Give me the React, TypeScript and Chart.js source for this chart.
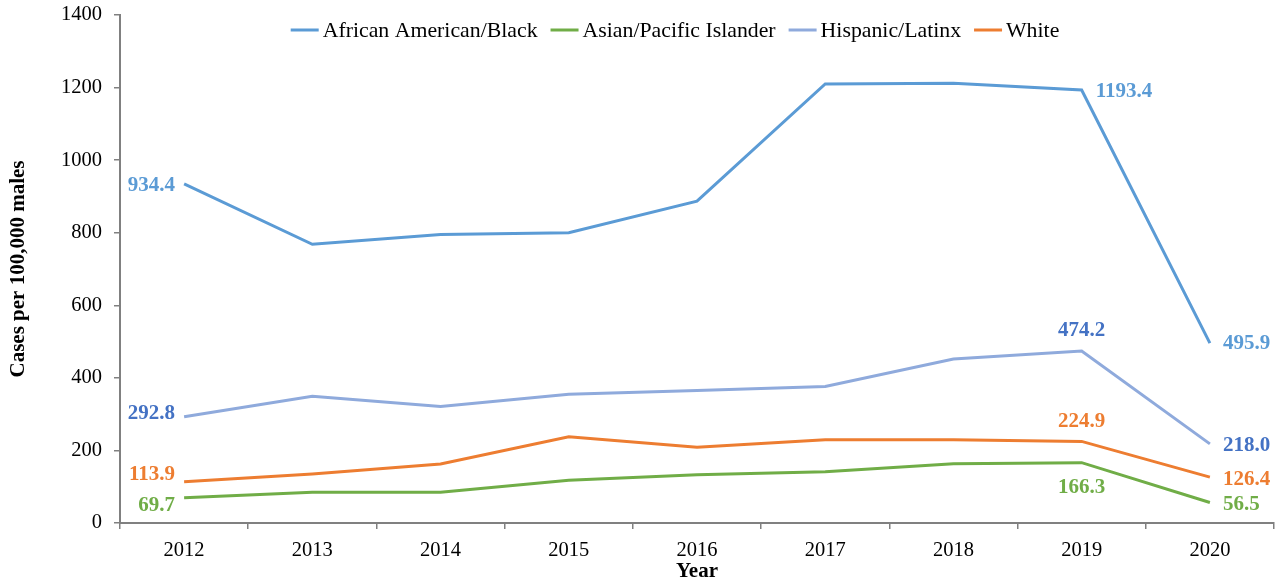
import React, { useEffect, useRef } from 'react';
import { Chart, registerables } from 'chart.js';

Chart.register(...registerables);

const years = ['2012', '2013', '2014', '2015', '2016', '2017', '2018', '2019', '2020'];
const black = [934.4, 768, 795, 800, 887, 1210, 1212, 1193.4, 495.9];
const asian = [69.7, 84.5, 84.5, 117.6, 133, 141.4, 163.5, 166.3, 56.5];
const hispanic = [292.8, 349, 321, 355, 365, 376, 452, 474.2, 218.0];
const white = [113.9, 135, 162.6, 237.9, 208.6, 229.6, 229.6, 224.9, 126.4];
const seriesNames = ['African American/Black', 'Asian/Pacific Islander', 'Hispanic/Latinx', 'White'];
const labeledIndices = [0, 7, 8];

const lineColors = ['#5B9BD5', '#70AD47', '#8FAADC', '#ED7D31'];
const labelColors = ['#5B9BD5', '#70AD47', '#4472C4', '#ED7D31'];

// placement of value labels: [mode, dx, dy]
const placement: Record<number, Record<number, [string, number, number]>> = {
  0: { 0: ['left', -9, 2], 7: ['right', 14, 2], 8: ['right', 13, 1] },
  1: { 0: ['left', -9, 8], 7: ['center', 0, 25], 8: ['right', 13, 2] },
  2: { 0: ['left', -9, -3], 7: ['center', 0, -20], 8: ['right', 13, 2] },
  3: { 0: ['left', -9, -7], 7: ['center', 0, -20], 8: ['right', 13, 2] },
};

const FONT = '"Liberation Serif", "Times New Roman", serif';

const valueLabelPlugin = {
  id: 'valueLabels',
  afterDatasetsDraw(chart: any) {
    const ctx = chart.ctx;
    ctx.save();
    ctx.font = `bold 21px ${FONT}`;
    ctx.textBaseline = 'middle';
    chart.data.datasets.forEach((ds: any, di: number) => {
      const meta = chart.getDatasetMeta(di);
      labeledIndices.forEach((idx) => {
        const pt = meta.data[idx];
        const p = placement[di][idx];
        if (!pt || !p) return;
        ctx.fillStyle = labelColors[di];
        ctx.textAlign = p[0] === 'left' ? 'right' : p[0] === 'right' ? 'left' : 'center';
        ctx.fillText(ds.data[idx].toFixed(1), pt.x + p[1], pt.y + p[2]);
      });
    });
    ctx.restore();
  },
};

const legendPlugin = {
  id: 'innerLegend',
  afterDraw(chart: any) {
    const ctx = chart.ctx;
    ctx.save();
    ctx.font = `21.8px ${FONT}`;
    ctx.textBaseline = 'middle';
    const lineLen = 28;
    const gapLT = 4;
    const gapItems = 13;
    const items = chart.data.datasets.map((ds: any, i: number) => ({
      text: ds.label,
      color: lineColors[i],
      w: ctx.measureText(ds.label).width,
    }));
    const total = items.reduce((s: number, it: any) => s + lineLen + gapLT + it.w, 0) + gapItems * (items.length - 1);
    let x = 675 - total / 2;
    const y = 30;
    items.forEach((it: any) => {
      ctx.strokeStyle = it.color;
      ctx.lineWidth = 3;
      ctx.beginPath();
      ctx.moveTo(x, y);
      ctx.lineTo(x + lineLen, y);
      ctx.stroke();
      ctx.fillStyle = '#000';
      ctx.textAlign = 'left';
      ctx.fillText(it.text, x + lineLen + gapLT, y + 1);
      x += lineLen + gapLT + it.w + gapItems;
    });
    ctx.restore();
  },
};

export default function App() {
  const ref = useRef<HTMLCanvasElement>(null);
  useEffect(() => {
    if (!ref.current) return;
    const series = [black, asian, hispanic, white];
    const chart = new Chart(ref.current, {
      type: 'line',
      data: {
        labels: years,
        datasets: series.map((d, i) => ({
          label: seriesNames[i],
          data: d,
          borderColor: lineColors[i],
          backgroundColor: lineColors[i],
          borderWidth: 3,
          pointRadius: 0,
          tension: 0,
          fill: false,
        })),
      },
      options: {
        animation: false,
        responsive: false,
        maintainAspectRatio: false,
        layout: { padding: { left: 0, right: 4, top: 15, bottom: 0 } },
        plugins: { legend: { display: false }, tooltip: { enabled: false } },
        scales: {
          x: {
            offset: true,
            grid: { display: true, drawOnChartArea: false, drawTicks: true, tickLength: 6, offset: true, color: '#808080', lineWidth: 1.5 },
            border: { display: true, color: '#808080', width: 2 },
            ticks: { color: '#000', font: { family: FONT, size: 20.5 }, padding: 9, maxRotation: 0 },
            title: { display: true, text: 'Year', color: '#000', font: { family: FONT, size: 21, weight: 'bold' }, padding: 0 },
            afterFit: (s: any) => { s.height = 61; s.paddingLeft = 0; s.paddingRight = 0; },
          },
          y: {
            min: 0,
            max: 1400,
            ticks: { stepSize: 200, color: '#000', font: { family: FONT, size: 20.5 }, padding: 12, callback: (v: any) => String(v) },
            grid: { display: true, drawOnChartArea: false, drawTicks: true, tickLength: 6, color: '#808080', lineWidth: 1.5 },
            border: { display: true, color: '#808080', width: 2 },
            title: { display: true, text: 'Cases per 100,000 males', color: '#000', font: { family: FONT, size: 21, weight: 'bold' }, padding: { top: 6, bottom: 0 } },
            afterFit: (s: any) => { s.width = 120; s.paddingTop = 0; s.paddingBottom = 0; },
          },
        },
      },
      plugins: [valueLabelPlugin, legendPlugin],
    } as any);
    return () => chart.destroy();
  }, []);
  return (
    <div style={{ position: 'fixed', left: 0, top: 0, width: 1278, height: 584, background: '#fff' }}>
      <canvas ref={ref} width={1278} height={584} />
    </div>
  );
}
